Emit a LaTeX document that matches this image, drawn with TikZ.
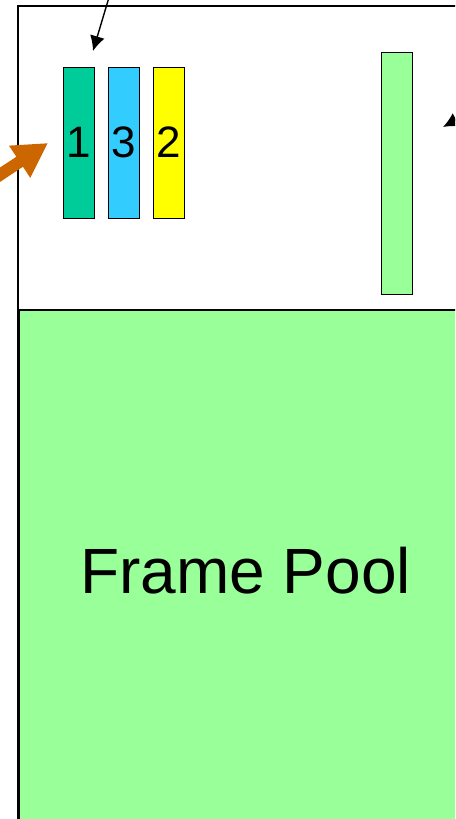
\documentclass[tikz,border=0pt]{standalone}
\usepackage{fontspec}
\setmainfont{Liberation Sans}
\usepackage{xcolor}
\usetikzlibrary{arrows.meta, positioning}

\definecolor{poolgreen}{HTML}{99FF99}
\definecolor{slotteal}{HTML}{00CC99}
\definecolor{slotblue}{HTML}{33CCFF}
\definecolor{slotyellow}{HTML}{FFFF00}
\definecolor{hotorange}{HTML}{CC6600}

\begin{document}
\begin{tikzpicture}[x=1pt, y=-1pt,
    slot/.style={draw, rectangle, line width=1pt, outer sep=0pt, minimum width=31pt, minimum height=151pt, inner sep=0pt, font=\fontsize{44}{48}\selectfont},
    ptr/.style={-{Latex[length=15pt, width=15pt]}, line width=1.4pt},
]
    \useasboundingbox (0,0) rectangle (455,819);
    \clip (0,0) rectangle (455,819);
    \draw[line width=1.5pt] (18,6) rectangle (480,840);
    \node[draw, rectangle, line width=1.5pt, fill=poolgreen, anchor=north west, minimum width=454pt, minimum height=522pt, font=\fontsize{64}{70}\selectfont] (pool) at (18,309) {Frame Pool};
    \node[slot, fill=slotteal, anchor=north west] (s1) at (63,67) {1};
    \node[slot, fill=slotblue, right=14pt of s1] (s3) {3};
    \node[slot, fill=slotyellow, right=14pt of s3] (s2) {2};
    \node[slot, fill=poolgreen, anchor=north west, minimum height=242pt] (free) at (381,52) {};
    \coordinate (hand) at (110,-6);
    \coordinate (handtip) at (93,51);
    \coordinate (tail) at (478,108);
    \coordinate (tailtip) at (443,127);
    \coordinate (newpg) at (-14,184);
    \coordinate (newtip) at (48,143);
    \draw[ptr] (hand) -- (handtip);
    \draw[ptr] (tail) -- (tailtip);
    \draw[-{Triangle[length=34pt, width=36pt]}, line width=12pt, hotorange] (newpg) -- (newtip);
\end{tikzpicture}
\end{document}
